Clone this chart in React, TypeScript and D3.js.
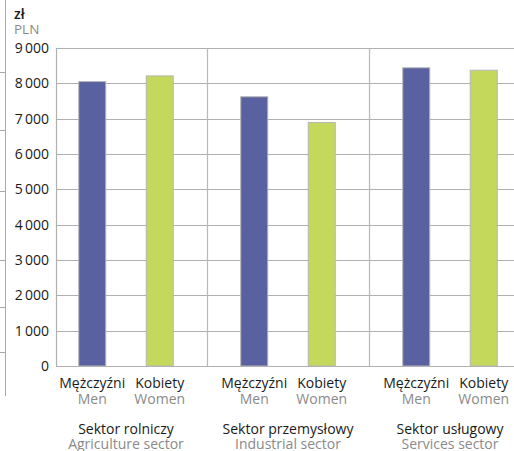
import React from "react";
import * as d3 from "d3";

const sectorsPl = ["Sektor rolniczy", "Sektor przemysłowy", "Sektor usługowy"];
const sectorsEn = ["Agriculture sector", "Industrial sector", "Services sector"];
const seriesPl = ["Mężczyźni", "Kobiety"];
const seriesEn = ["Men", "Women"];
const menValues = [8050, 7620, 8440];
const womenValues = [8210, 6890, 8370];
const yTicks = [0, 1000, 2000, 3000, 4000, 5000, 6000, 7000, 8000, 9000];
const leftStubs = [72, 130, 191, 260, 307, 352];

const W = 514;
const H = 451;
const COLORS = ["#5a61a0", "#c4d85b"];
const FONT = "'Open Sans', 'DejaVu Sans', sans-serif";

export default function App() {
  const y = d3.scaleLinear().domain([0, 9000]).range([366, 48]);
  const x0 = d3.scaleBand<string>().domain(sectorsPl).range([45, 531]);
  const x1 = d3.scaleBand<string>().domain(seriesPl).range([0, x0.bandwidth()]).paddingInner(0.6).paddingOuter(0.5);
  const fmt = (v: number) => d3.format(",")(v).replace(",", "\u2009");
  const values = [menValues, womenValues];
  const axisX = 56;
  const fs = 14;

  return (
    <svg width={W} height={H} style={{ position: "absolute", left: 0, top: 0, background: "#fff" }} fontFamily={FONT}>
      {/* fragment of neighbouring chart at left edge */}
      <line x1={5.5} x2={5.5} y1={0} y2={396} stroke="#aaa" strokeWidth={1} />
      {leftStubs.map((s) => (
        <line key={s} x1={0} x2={5.5} y1={s + 0.5} y2={s + 0.5} stroke="#aaa" strokeWidth={1} />
      ))}
      <text x={14} y={19} fontSize={fs} fill="#1a1a1a" fontWeight={600}>zł</text>
      <text x={14} y={34} fontSize={fs - 0.5} fill="#8a8a8a">PLN</text>
      {yTicks.map((t) => (
        <g key={t}>
          <line x1={axisX} x2={W} y1={Math.round(y(t)) + 0.5} y2={Math.round(y(t)) + 0.5} stroke="#b0b0b0" strokeWidth={1.2} />
          <text x={49} y={y(t) + 5} fontSize={fs} textAnchor="end" fill="#1a1a1a">{fmt(t)}</text>
        </g>
      ))}
      <line x1={axisX + 0.5} x2={axisX + 0.5} y1={y(9000)} y2={y(0)} stroke="#b0b0b0" strokeWidth={1.2} />
      {sectorsPl.slice(1).map((s) => (
        <line key={s} x1={x0(s)! + 0.5} x2={x0(s)! + 0.5} y1={y(9000)} y2={y(0)} stroke="#b8b8b8" strokeWidth={1.2} />
      ))}
      {sectorsPl.map((s, i) => (
        <g key={s} transform={`translate(${x0(s)},0)`}>
          {seriesPl.map((ser, j) => (
            <rect
              key={ser}
              x={x1(ser)}
              y={y(values[j][i])}
              width={x1.bandwidth()}
              height={y(0) - y(values[j][i])}
              fill={COLORS[j]}
              stroke="#b5b5b5"
              strokeWidth={1}
            />
          ))}
          {seriesPl.map((ser, j) => (
            <g key={ser + "l"}>
              <text x={x1(ser)! + x1.bandwidth() / 2} y={388} fontSize={fs} textAnchor="middle" fill="#1a1a1a">{ser}</text>
              <text x={x1(ser)! + x1.bandwidth() / 2} y={404} fontSize={fs} textAnchor="middle" fill="#8a8a8a">{seriesEn[j]}</text>
            </g>
          ))}
          <text x={x0.bandwidth() / 2} y={434} fontSize={fs} textAnchor="middle" fill="#1a1a1a">{s}</text>
          <text x={x0.bandwidth() / 2} y={449} fontSize={fs} textAnchor="middle" fill="#8a8a8a">{sectorsEn[i]}</text>
        </g>
      ))}
    </svg>
  );
}
